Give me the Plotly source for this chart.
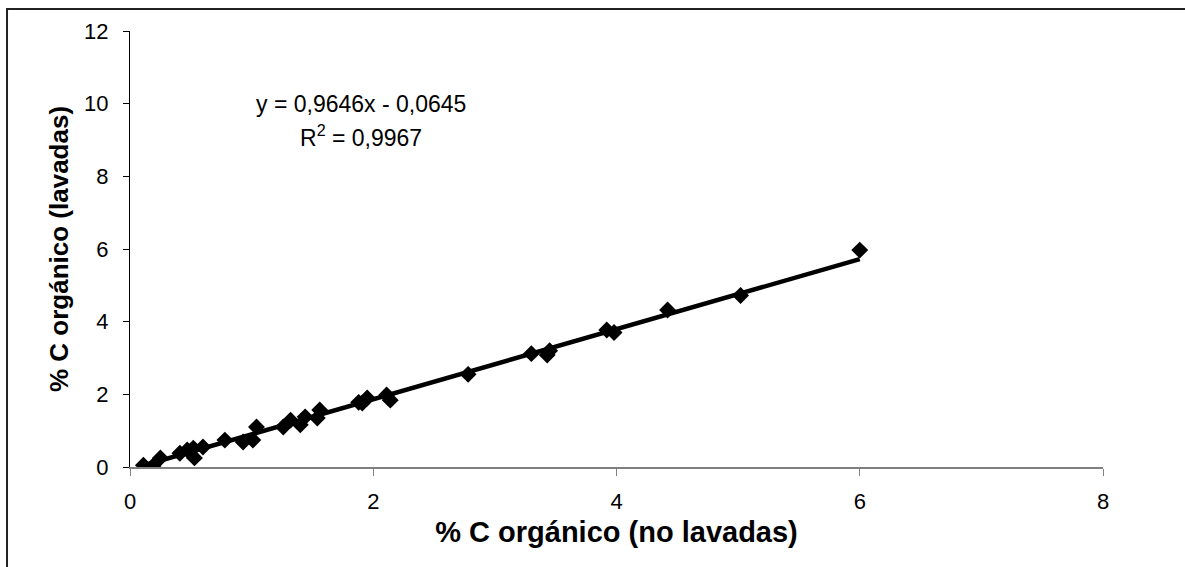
import plotly.graph_objects as go

# % C orgánico: muestras no lavadas (x) vs. lavadas (y)
c_no_lavadas = [0.11, 0.19, 0.25, 0.41, 0.47, 0.52, 0.53, 0.60, 0.78, 0.93,
                1.01, 1.04, 1.26, 1.32, 1.40, 1.44, 1.54, 1.56, 1.88, 1.91,
                1.95, 2.11, 2.14, 2.78, 3.30, 3.43, 3.45, 3.92, 3.98, 4.42,
                5.02, 6.00]
c_lavadas = [0.05, 0.03, 0.25, 0.38, 0.47, 0.52, 0.25, 0.55, 0.74, 0.69,
             0.74, 1.10, 1.10, 1.29, 1.16, 1.38, 1.35, 1.57, 1.78, 1.76,
             1.90, 1.98, 1.84, 2.55, 3.12, 3.08, 3.20, 3.77, 3.70, 4.32,
             4.72, 5.97]

# Recta de regresión lineal
pendiente = 0.9646
ordenada = -0.0645
r2 = 0.9967

x_tick_vals = [0, 2, 4, 6, 8]
y_tick_vals = [0, 2, 4, 6, 8, 10, 12]

x_line = [min(c_no_lavadas), max(c_no_lavadas)]
y_line = [pendiente * v + ordenada for v in x_line]

font = "Liberation Sans, Arial, sans-serif"

fig = go.Figure()
fig.add_trace(go.Scatter(
    x=c_no_lavadas, y=c_lavadas, mode="markers",
    marker=dict(symbol="diamond", size=13, color="black"),
    showlegend=False, hoverinfo="x+y",
))
fig.add_trace(go.Scatter(
    x=x_line, y=y_line, mode="lines",
    line=dict(color="black", width=4.5),
    showlegend=False, hoverinfo="skip",
))

def fmt(v):
    return f"{v:.4f}".replace(".", ",")

eq_text = f"y = {fmt(pendiente)}x - {fmt(abs(ordenada))}"
r2_text = f"R<sup>2</sup> = {fmt(r2)}"

fig.add_annotation(x=1.90, y=9.99, xref="x", yref="y", text=eq_text,
                   showarrow=False, font=dict(family=font, size=23, color="black"))
fig.add_annotation(x=1.90, y=9.12, xref="x", yref="y", text=r2_text,
                   showarrow=False, font=dict(family=font, size=23, color="black"))

# Marco exterior del gráfico
fig.add_shape(type="rect", xref="paper", yref="paper",
              x0=-0.1264, x1=1.10, y0=-0.30, y1=1.0505,
              line=dict(color="#222222", width=2), layer="below")

fig.update_layout(
    width=1185, height=567,
    margin=dict(l=130, r=82, t=31, b=100),
    paper_bgcolor="white", plot_bgcolor="white",
    font=dict(family=font, color="black"),
    xaxis=dict(
        range=[0, 8], tickvals=x_tick_vals, showgrid=False, zeroline=False,
        showline=True, linecolor="#808080", linewidth=2,
        ticks="outside", ticklen=7, tickcolor="#808080", tickwidth=1,
        tickfont=dict(size=22, family=font),
        ticklabelstandoff=7,
        title=dict(text="<b>% C orgánico (no lavadas)</b>",
                   font=dict(size=29, family=font), standoff=8),
    ),
    yaxis=dict(
        range=[0, 12], tickvals=y_tick_vals, showgrid=False, zeroline=False,
        showline=True, linecolor="black", linewidth=1,
        ticks="outside", ticklen=6, tickcolor="black", tickwidth=1,
        tickfont=dict(size=22, family=font),
        ticklabelstandoff=10,
        title=dict(text="<b>% C orgánico (lavadas)</b>",
                   font=dict(size=26, family=font), standoff=8),
    ),
)

fig.write_html("out.html")
